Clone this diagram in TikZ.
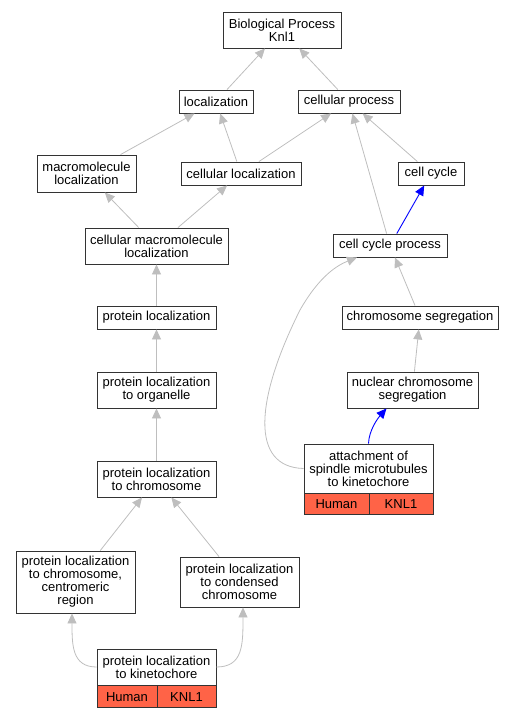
\documentclass[tikz,border=0pt]{standalone}
\usepackage{fontspec}
\setmainfont{Liberation Sans}
\usetikzlibrary{arrows.meta,positioning,calc}
\definecolor{orgred}{RGB}{255,99,71}
\definecolor{edgegray}{RGB}{190,190,190}

\begin{document}
\begin{tikzpicture}[x=1pt, y=-1pt,
    term/.style={draw=black!80, line width=0.9pt, fill=white, align=center, inner sep=0pt, font=\fontsize{13}{13}\selectfont},
    org/.style={term, fill=orgred},
    isa/.style={draw=edgegray, line width=0.8pt, -{Triangle[length=10pt, width=9pt]}},
    reg/.style={draw=blue, line width=0.9pt, -{Triangle[length=10pt, width=9pt]}}]
    \useasboundingbox (0,0) rectangle (513,717);
    % Top levels
    \node[term, minimum width=118, minimum height=36] (bp) at (282,30) {Biological Process\\Knl1};
    \node[term, minimum width=74, minimum height=23] (loc) at (216,101.5) {localization};
    \node[term, minimum width=102, minimum height=23] (cp) at (349,101.5) {cellular process};
    \node[term, minimum width=99, minimum height=37] (mml) at (86.5,173.5) {macromolecule\\localization};
    \node[term, minimum width=120, minimum height=23] (cl) at (241,173.5) {cellular localization};
    \node[term, minimum width=66, minimum height=23] (cc) at (431,173.5) {cell cycle};
    \node[term, minimum width=143, minimum height=36] (cml) at (156.5,246) {cellular macromolecule\\localization};
    \node[term, minimum width=114, minimum height=23] (ccp) at (390,245.5) {cell cycle process};
    % Left column
    \node[term, minimum width=119, minimum height=23] (pl) at (156.5,317.5) {protein localization};
    \node[term, minimum width=119, minimum height=36] (plo) at (156.5,390) {protein localization\\to organelle};
    \node[term, minimum width=119, minimum height=36] (plc) at (156.5,479) {protein localization\\to chromosome};
    \node[term, minimum width=119, minimum height=62] (plcr) at (75.5,582) {protein localization\\to chromosome,\\centromeric\\region};
    \node[term, minimum width=119, minimum height=50] (plcc) at (239.5,582) {protein localization\\to condensed\\chromosome};
    \node[term, minimum width=119, minimum height=36] (plk) at (156.5,667) {protein localization\\to kinetochore};
    \node[org, minimum width=60, minimum height=22, anchor=north west] (plkh) at (plk.south west) {Human};
    \node[org, minimum width=59, minimum height=22, anchor=north east] (plkg) at (plk.south east) {KNL1};
    % Right column
    \node[term, minimum width=156, minimum height=23] (cs) at (420,317.5) {chromosome segregation};
    \node[term, minimum width=131, minimum height=36] (ncs) at (412.5,390) {nuclear chromosome\\segregation};
    \node[term, minimum width=129, minimum height=49] (asm) at (368.5,468.5) {attachment of\\spindle microtubules\\to kinetochore};
    \node[org, minimum width=65, minimum height=21, anchor=north west] (asmh) at (asm.south west) {Human};
    \node[org, minimum width=64, minimum height=21, anchor=north east] (asmg) at (asm.south east) {KNL1};

    % Arrows
    \draw[isa] (loc) -- (bp);
    \draw[isa] (cp) -- (bp);
    \draw[isa] (mml) -- (loc);
    \draw[isa] (cl) -- (loc);
    \draw[isa] (cl) -- (cp);
    \draw[isa] (cc) -- (cp);
    \draw[isa] (ccp) -- (cp);
    \draw[reg] (ccp) -- (cc);
    \draw[isa] (cml) -- (mml);
    \draw[isa] (cml) -- (cl);
    \draw[isa] (pl) -- (cml);
    \draw[isa] (plo) -- (pl);
    \draw[isa] (plc) -- (plo);
    \draw[isa] (plcr) -- (plc);
    \draw[isa] (plcc) -- (plc);
    \draw[isa] (plk.west) .. controls (72,667) and (72,645) .. ([xshift=-3.5pt]plcr.south);
    \draw[isa] (plk.east) .. controls (243,667) and (243,645) .. ([xshift=3.5pt]plcc.south);
    \draw[isa] (cs) -- (ccp);
    \draw[isa] (ncs) -- (cs);
    \draw[reg] (asm.north) .. controls (369,430) and (378,418) .. ([xshift=-26pt]ncs.south);
    \draw[isa] (asm.west) .. controls (250,467) and (255,400) .. (300,310) .. controls (320,275) and (338,265) .. ([xshift=-33pt]ccp.south);
\end{tikzpicture}
\end{document}
